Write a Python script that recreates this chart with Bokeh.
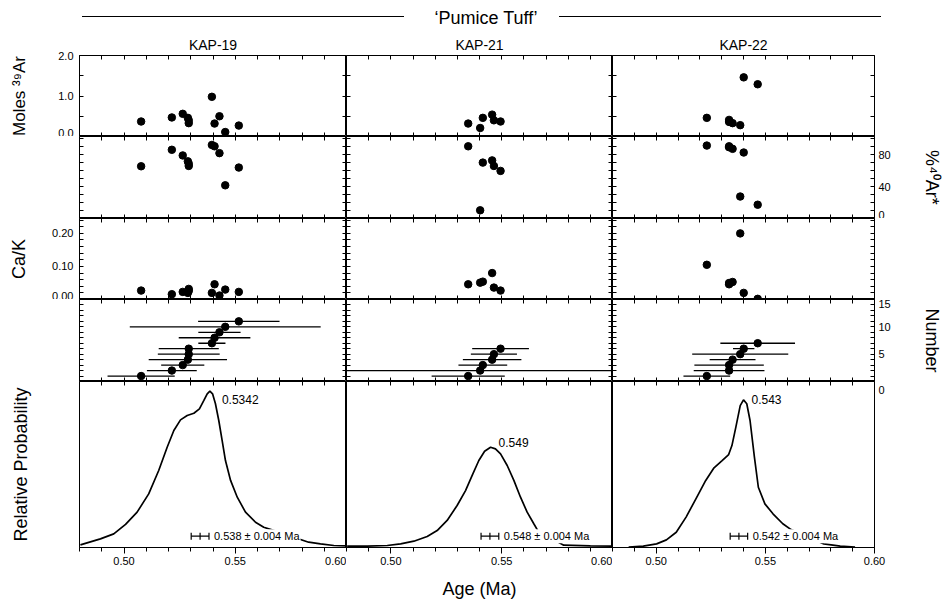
import math
from bokeh.plotting import figure
from bokeh.models import (LinearAxis, FixedTicker, Range1d, Label, Whisker, TeeHead,
                          ColumnDataSource, Div)
from bokeh.layouts import gridplot, column
from bokeh.embed import file_html
from bokeh.resources import INLINE

FONT = "Liberation Sans"

# ---------------------------------------------------------------- data
samples = ["KAP-19", "KAP-21", "KAP-22"]
unit_name = "\u2018Pumice Tuff\u2019"

# KAP-19 (11 crystals, sorted by age)
ages19 = [0.5077, 0.5215, 0.5264, 0.5287, 0.5291, 0.5291, 0.5395, 0.5407, 0.5429, 0.5455, 0.5516]
err19 = [0.0151, 0.0112, 0.0097, 0.0176, 0.0139, 0.0135, 0.0061, 0.0161, 0.0095, 0.0429, 0.0183]
moles19 = [0.37, 0.47, 0.56, 0.46, 0.40, 0.33, 0.98, 0.32, 0.50, 0.11, 0.27]
rad19 = [65.6, 86.3, 79.2, 71.8, 68.9, 66.0, 92.4, 90.7, 82.1, 41.7, 64.0]
cak19 = [0.027, 0.016, 0.023, 0.020, 0.026, 0.032, 0.020, 0.046, 0.012, 0.030, 0.023]
number19 = [1, 2, 3, 4, 5, 6, 7, 8, 9, 10, 11]

# KAP-21 (6 crystals)
ages21 = [0.5349, 0.5403, 0.5415, 0.5457, 0.5465, 0.5495]
err21 = [0.0165, 0.1000, 0.0110, 0.0132, 0.0104, 0.0128]
moles21 = [0.32, 0.21, 0.46, 0.54, 0.40, 0.37]
rad21 = [90.7, 10.3, 70.2, 73.0, 66.0, 59.8]
cak21 = [0.046, 0.051, 0.054, 0.080, 0.036, 0.027]
number21 = [1, 2, 3, 4, 5, 6]

# KAP-22 (7 crystals)
ages22 = [0.5232, 0.5334, 0.5334, 0.5350, 0.5385, 0.5401, 0.5465]
err22 = [0.0107, 0.0162, 0.0159, 0.0105, 0.0220, 0.0049, 0.0171]
moles22 = [0.46, 0.41, 0.36, 0.33, 0.28, 1.46, 1.29]
rad22 = [91.6, 90.7, 89.5, 87.5, 27.6, 82.9, 17.3]
cak22 = [0.105, 0.046, 0.050, 0.053, 0.200, 0.020, 0.002]
number22 = [1, 2, 3, 4, 5, 6, 7]

# relative-probability curves
curve19_age = [0.4804, 0.4894, 0.4954, 0.5007, 0.5059, 0.5111, 0.5156, 0.5194, 0.5224, 0.5254,
               0.5284, 0.5314, 0.5339, 0.5359, 0.5374, 0.5386, 0.5398, 0.5411, 0.5426, 0.5441,
               0.5456, 0.5479, 0.5509, 0.5546, 0.5591, 0.5628, 0.5661, 0.5830, 0.5883, 0.5943, 0.6000]
curve19_p = [0.016, 0.052, 0.082, 0.139, 0.213, 0.323, 0.464, 0.604, 0.705, 0.769,
             0.795, 0.809, 0.835, 0.886, 0.926, 0.942, 0.926, 0.866, 0.765, 0.645,
             0.524, 0.404, 0.303, 0.213, 0.152, 0.122, 0.108, 0.032, 0.022, 0.012, 0.010]

curve21_age = [0.4803, 0.4893, 0.4984, 0.5044, 0.5104, 0.5164, 0.5209, 0.5254, 0.5299, 0.5337,
               0.5367, 0.5397, 0.5423, 0.5450, 0.5472, 0.5495, 0.5525, 0.5555, 0.5585, 0.5615,
               0.5645, 0.5663, 0.5780, 0.5900, 0.6000]
curve21_p = [0.008, 0.008, 0.012, 0.022, 0.038, 0.066, 0.102, 0.163, 0.253, 0.343,
             0.434, 0.524, 0.580, 0.604, 0.594, 0.564, 0.494, 0.404, 0.303, 0.213,
             0.143, 0.102, 0.014, 0.010, 0.008]

curve22_age = [0.4874, 0.4941, 0.5002, 0.5047, 0.5092, 0.5137, 0.5182, 0.5227, 0.5265, 0.5302,
               0.5332, 0.5347, 0.5365, 0.5385, 0.5400, 0.5415, 0.5430, 0.5450, 0.5468, 0.5498,
               0.5535, 0.5580, 0.5618, 0.5768, 0.5843, 0.5911]
curve22_p = [0.002, 0.008, 0.022, 0.046, 0.092, 0.183, 0.293, 0.404, 0.480, 0.524,
             0.560, 0.614, 0.725, 0.855, 0.889, 0.866, 0.765, 0.544, 0.363, 0.263,
             0.203, 0.143, 0.108, 0.022, 0.008, 0.002]

peak_text = ["0.5342", "0.549", "0.543"]
wm_age = [0.538, 0.548, 0.542]
wm_err = [0.004, 0.004, 0.004]
wm_bar_age = [0.5342, 0.5447, 0.5379]

# axis texts and tick labels
row_titles_left = ["Moles \u00b3\u2079Ar", None, "Ca/K", None, "Relative Probability"]
row_titles_right = [None, "%\u2074\u2070Ar*", None, "Number", None]
x_title = "Age (Ma)"
x_tick_labels = [
    {0.50: "0.50", 0.55: "0.55", 0.60: "0.60"},
    {0.50: "0.50", 0.55: "0.55", 0.60: "0.60"},
    {0.50: "0.50", 0.55: "0.55", 0.60: "0.60"},
]
left_tick_labels = [
    {0.0: "0.0", 1.0: "1.0", 2.0: "2.0"},
    {},
    {0.0: "0.00", 0.10: "0.10", 0.20: "0.20"},
    {},
    {},
]
right_tick_labels = [
    {},
    {0.0: "0", 40.0: "40", 80.0: "80"},
    {},
    {5.0: "5", 10.0: "10", 15.0: "15"},
    {1.0: "0"},
]

# ---------------------------------------------------------------- layout
AGE_MIN, AGE_MAX = 0.48, 0.60
ROW_RANGES = [(0.0, 2.0), (0.0, 103.0), (0.0, 0.245), (0.0, 15.0), (0.0, 1.0)]
ROW_TICKS = [
    [0.5, 1.0, 1.5],
    [10.0, 20.0, 30.0, 40.0, 50.0, 60.0, 70.0, 80.0, 90.0, 100.0],
    [0.02, 0.04, 0.06, 0.08, 0.10, 0.12, 0.14, 0.16, 0.18, 0.20, 0.22, 0.24],
    [1.0, 2.0, 3.0, 4.0, 5.0, 6.0, 7.0, 8.0, 9.0, 10.0, 11.0, 12.0, 13.0, 14.0],
    [],
]
X_TICKS = [0.49, 0.50, 0.51, 0.52, 0.53, 0.54, 0.55, 0.56, 0.57, 0.58, 0.59]
ROW_H = [81, 82, 81, 82, 166]
COL_W = [267, 266, 266]
HEADER_H = 30
B_LEFT, B_RIGHT, B_TOP, B_BOTTOM = 79, 66, 25, 54
LEFT_TITLE_STANDOFF = [26, 0, 20, 0, 49]
LEFT_TITLE_SIZE = ["17px", None, "18px", None, "18px"]
RIGHT_TITLE_STANDOFF = [0, 28, 0, 28, 0]
X_TITLE_STANDOFF = 11
MEAN_Y = 0.068
PEAK_OFFSETS = [(12, -8), (8, 5), (8, 0)]


def make_axis(majors, minors=(), labels=None, tick_in=4, tick_out=0,
              minor_in=None, minor_out=None, standoff=5,
              axis_label=None, axis_label_standoff=10, axis_label_size="18px"):
    ax = LinearAxis(ticker=FixedTicker(ticks=list(majors), minor_ticks=list(minors)))
    ax.axis_line_color = "black"
    ax.axis_line_width = 1
    ax.major_tick_line_color = "black"
    ax.minor_tick_line_color = "black"
    ax.major_tick_in = tick_in
    ax.major_tick_out = tick_out
    ax.minor_tick_in = tick_in if minor_in is None else minor_in
    ax.minor_tick_out = tick_out if minor_out is None else minor_out
    if labels:
        ax.major_label_overrides = dict(labels)
        ax.major_label_text_font = FONT
        ax.major_label_text_font_size = "11px"
        ax.major_label_text_color = "black"
        ax.major_label_standoff = standoff
    else:
        ax.major_label_text_color = None
        ax.major_label_standoff = 0
    if axis_label:
        ax.axis_label = axis_label
        ax.axis_label_text_font = FONT
        ax.axis_label_text_font_size = axis_label_size or "18px"
        ax.axis_label_text_font_style = "normal"
        ax.axis_label_text_color = "black"
        ax.axis_label_standoff = axis_label_standoff
    return ax


cols = [
    dict(age=ages19, err=err19, moles=moles19, rad=rad19, cak=cak19, num=number19,
         c_age=curve19_age, c_p=curve19_p),
    dict(age=ages21, err=err21, moles=moles21, rad=rad21, cak=cak21, num=number21,
         c_age=curve21_age, c_p=curve21_p),
    dict(age=ages22, err=err22, moles=moles22, rad=rad22, cak=cak22, num=number22,
         c_age=curve22_age, c_p=curve22_p),
]
x_ranges = [Range1d(AGE_MIN, AGE_MAX) for _ in range(3)]
y_ranges = [Range1d(*rr) for rr in ROW_RANGES]

rows = []
for r in range(5):
    row = []
    for c in range(3):
        d = cols[c]
        w = COL_W[c] + (B_LEFT if c == 0 else 0) + (B_RIGHT if c == 2 else 0)
        h = ROW_H[r] + (B_TOP if r == 0 else 0) + (B_BOTTOM if r == 4 else 0)
        p = figure(width=w, height=h, output_backend="svg", toolbar_location=None, tools="",
                   x_range=x_ranges[c], y_range=y_ranges[r],
                   x_axis_location=None, y_axis_location=None,
                   title=(samples[c] if r == 0 else None),
                   min_border_left=(B_LEFT if c == 0 else 0),
                   min_border_right=(B_RIGHT if c == 2 else 0),
                   min_border_top=(B_TOP if r == 0 else 0),
                   min_border_bottom=(B_BOTTOM if r == 4 else 0))
        p.xgrid.visible = False
        p.ygrid.visible = False
        p.outline_line_color = "black"
        p.background_fill_color = "white"
        p.border_fill_color = "white"
        if r == 0:
            p.title.align = "center"
            p.title.text_font = FONT
            p.title.text_font_size = "14px"
            p.title.text_font_style = "normal"
            p.title.text_color = "black"
            p.title.standoff = 5

        # x axes
        p.add_layout(make_axis(X_TICKS), "above")
        if r < 4:
            p.add_layout(make_axis(X_TICKS), "below")
        else:
            labs = x_tick_labels[c]
            majors = sorted(labs.keys())
            minors = [t for t in ([AGE_MIN] + X_TICKS) if t not in labs]
            p.add_layout(make_axis(majors, minors, labels=labs, tick_in=0, tick_out=6,
                                   minor_in=0, minor_out=4, standoff=3,
                                   axis_label=(x_title if c == 1 else None),
                                   axis_label_standoff=X_TITLE_STANDOFF), "below")

        # y axes
        if c == 0:
            labs = left_tick_labels[r]
            minors = [t for t in ROW_TICKS[r] if t not in labs]
            p.add_layout(make_axis(sorted(labs.keys()), minors, labels=labs, standoff=6,
                                   axis_label=row_titles_left[r],
                                   axis_label_standoff=LEFT_TITLE_STANDOFF[r],
                                   axis_label_size=LEFT_TITLE_SIZE[r]), "left")
        else:
            p.add_layout(make_axis(ROW_TICKS[r]), "left")
        if c == 2:
            labs = right_tick_labels[r]
            minors = [t for t in ROW_TICKS[r] if t not in labs]
            p.add_layout(make_axis(sorted(labs.keys()), minors, labels=labs, standoff=4,
                                   axis_label=row_titles_right[r],
                                   axis_label_standoff=RIGHT_TITLE_STANDOFF[r]), "right")
        else:
            p.add_layout(make_axis(ROW_TICKS[r]), "right")

        # data
        if r == 0:
            p.scatter(d["age"], d["moles"], size=7.5, color="black")
        elif r == 1:
            p.scatter(d["age"], d["rad"], size=7.5, color="black")
        elif r == 2:
            p.scatter(d["age"], d["cak"], size=7.5, color="black")
        elif r == 3:
            lo = [a - e for a, e in zip(d["age"], d["err"])]
            hi = [a + e for a, e in zip(d["age"], d["err"])]
            p.segment(x0=lo, y0=d["num"], x1=hi, y1=d["num"], line_color="black", line_width=1.3)
            p.scatter(d["age"], d["num"], size=7.5, color="black")
        else:
            p.line(d["c_age"], d["c_p"], line_color="black", line_width=1.7)
            ip = d["c_p"].index(max(d["c_p"]))
            dx, dy = PEAK_OFFSETS[c]
            p.add_layout(Label(x=d["c_age"][ip], y=d["c_p"][ip], x_offset=dx, y_offset=dy,
                               text=peak_text[c], text_font=FONT, text_font_size="12px",
                               text_baseline="middle", text_align="left", text_color="black"))
            src = ColumnDataSource(dict(base=[MEAN_Y],
                                        lower=[wm_bar_age[c] - wm_err[c]],
                                        upper=[wm_bar_age[c] + wm_err[c]]))
            p.add_layout(Whisker(source=src, base="base", lower="lower", upper="upper",
                                 dimension="width", line_color="black", line_width=1.2,
                                 lower_head=TeeHead(size=7, line_color="black", line_width=1.2),
                                 upper_head=TeeHead(size=7, line_color="black", line_width=1.2)))
            p.scatter([wm_bar_age[c]], [MEAN_Y], marker="dash", angle=math.pi / 2, size=7,
                      line_color="black", line_width=1.2)
            p.add_layout(Label(x=wm_bar_age[c] + wm_err[c], y=MEAN_Y, x_offset=4,
                               text=f"{wm_age[c]:.3f} \u00b1 {wm_err[c]:.3f} Ma",
                               text_font=FONT, text_font_size="11px", text_color="black",
                               text_baseline="middle", text_align="left",
                               background_fill_color="white", padding=1))
        row.append(p)
    rows.append(row)

grid = gridplot(rows, toolbar_location=None)

total_w = B_LEFT + sum(COL_W) + B_RIGHT
header_html = (
    '<div style="position:relative;width:' + str(total_w) + 'px;height:' + str(HEADER_H) + 'px;'
    'font-family:\'Liberation Sans\',Arial,sans-serif;color:#000;">'
    '<div style="position:absolute;left:82px;top:16px;width:322px;height:0;'
    'border-top:1.5px solid #000;"></div>'
    '<div style="position:absolute;left:406px;top:7px;width:160px;text-align:center;'
    'font-size:18px;line-height:22px;white-space:nowrap;">' + unit_name + '</div>'
    '<div style="position:absolute;left:559px;top:16px;width:322px;height:0;'
    'border-top:1.5px solid #000;"></div>'
    '</div>'
)
header = Div(text=header_html, width=total_w, height=HEADER_H, margin=(0, 0, 0, 0))

layout = column(header, grid)
open("out.html", "w").write(file_html(layout, INLINE, title="Pumice Tuff"))
